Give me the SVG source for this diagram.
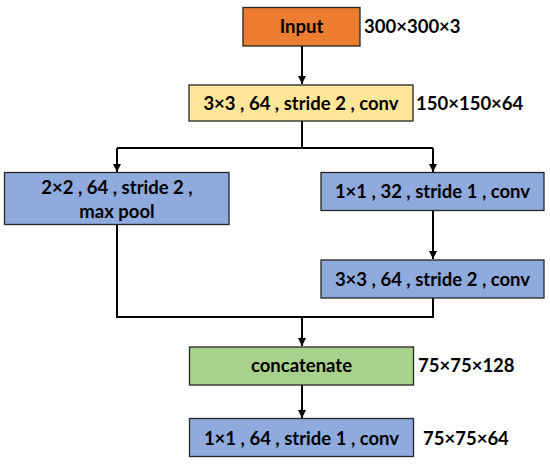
<svg xmlns="http://www.w3.org/2000/svg" width="550" height="468" viewBox="0 0 550 468">
<style>
.box{stroke:#262626;stroke-width:1.3}
.t{font-family:Lato,"Liberation Sans",sans-serif;font-weight:bold;font-size:18.5px;fill:#000}
.c{text-anchor:middle}
.ln{fill:none;stroke:#000;stroke-width:2}
</style>
<defs>
<marker id="ah" viewBox="0 0 10 10" refX="10" refY="5" markerWidth="8" markerHeight="8" markerUnits="userSpaceOnUse" orient="auto">
<path d="M0,0 L10,5 L0,10 Z" fill="#000"/>
</marker>
</defs>
<rect width="550" height="468" fill="#fff"/>
<g id="connectors">
<path class="ln" d="M302,46 V84" marker-end="url(#ah)"/>
<path class="ln" d="M302,121 V148"/>
<path class="ln" d="M117,148 H433"/>
<path class="ln" d="M117,148 V172" marker-end="url(#ah)"/>
<path class="ln" d="M433,148 V172" marker-end="url(#ah)"/>
<path class="ln" d="M433,211 V259" marker-end="url(#ah)"/>
<path class="ln" d="M117,224 V317 H433 V298"/>
<path class="ln" d="M302,317 V346" marker-end="url(#ah)"/>
<path class="ln" d="M302,385 V418" marker-end="url(#ah)"/>
</g>
<g id="input">
<rect class="box" x="243" y="7.5" width="117" height="38.5" fill="#ED7D31"/>
<text class="t c" x="301.5" y="33">Input</text>
<text class="t" x="364" y="33">300×300×3</text>
</g>
<g id="conv1">
<rect class="box" x="189" y="85" width="224" height="36" fill="#FFE699"/>
<text class="t c" x="301" y="110">3×3 , 64 , stride 2 , conv</text>
<text class="t" x="416" y="110">150×150×64</text>
</g>
<g id="maxpool">
<rect class="box" x="4.5" y="172.5" width="224.5" height="52" fill="#8FAADC"/>
<text class="t c" x="117" y="193.5">2×2 , 64 , stride 2 ,</text>
<text class="t c" x="117" y="217.5">max pool</text>
</g>
<g id="conv2">
<rect class="box" x="321" y="172.5" width="223" height="38" fill="#8FAADC"/>
<text class="t c" x="432.5" y="198">1×1 , 32 , stride 1 , conv</text>
</g>
<g id="conv3">
<rect class="box" x="321" y="260" width="223" height="38" fill="#8FAADC"/>
<text class="t c" x="432.5" y="285.5">3×3 , 64 , stride 2 , conv</text>
</g>
<g id="concat">
<rect class="box" x="189.5" y="347" width="224" height="38" fill="#A9D18E"/>
<text class="t c" x="301.5" y="372">concatenate</text>
<text class="t" x="418" y="372">75×75×128</text>
</g>
<g id="conv4">
<rect class="box" x="189.5" y="418.5" width="224" height="38" fill="#8FAADC"/>
<text class="t c" x="301.5" y="444.5">1×1 , 64 , stride 1 , conv</text>
<text class="t" x="423" y="444.5">75×75×64</text>
</g>
</svg>
